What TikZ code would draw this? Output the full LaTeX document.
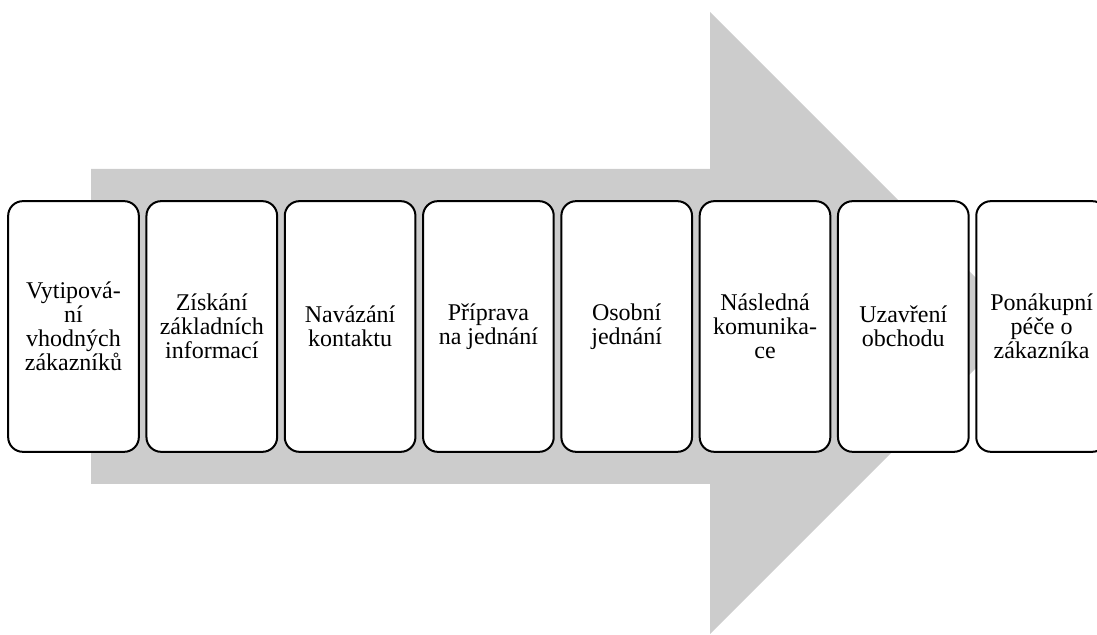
\documentclass[tikz,border=0pt]{standalone}
\usepackage{fontspec}
\setmainfont{Liberation Serif}
\usetikzlibrary{calc}
\definecolor{arrowgray}{RGB}{204,204,204}

\begin{document}
\begin{tikzpicture}[x = 0.75pt, y = 0.75pt,
	stage/.style = {draw, line width = 1.5pt, fill = white, rectangle, rounded corners = 11pt, minimum width = 98pt, minimum height = 188pt, align = center, inner sep = 2pt, font = \fontsize{18}{18}\selectfont}]
	\useasboundingbox (0, 0) rectangle (1097, 635);

	\fill[arrowgray] (91, 151) -- (91, 466) -- (710, 466) -- (710, 623) -- (1021, 312) -- (710, 1) -- (710, 151) -- cycle;

	\foreach \i/\txt in {0/{Vytipová-\\ní\\vhodných\\zákazníků}, 1/{Získání\\základních\\informací}, 2/{Navázání\\kontaktu}, 3/{Příprava\\na jednání}, 4/{Osobní\\jednání}, 5/{Následná\\komunika-\\ce}, 6/{Uzavření\\obchodu}, 7/{Ponákupní\\péče o\\zákazníka}}
		\node[stage] (s\i) at ({73.5 + 138.3*\i}, 308.5){\txt};
\end{tikzpicture}
\end{document}
